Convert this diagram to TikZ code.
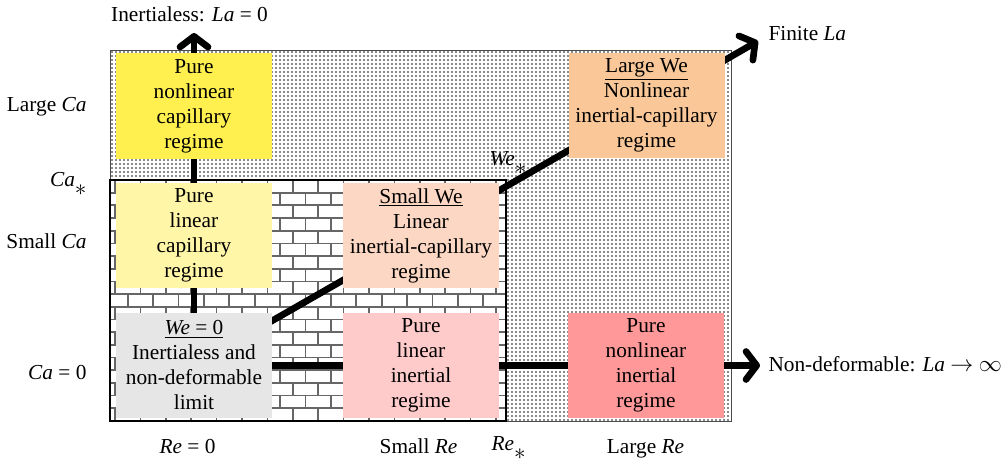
\documentclass[tikz,border=0pt]{standalone}
\usepackage{fontspec}
\setmainfont{Liberation Serif}
\usetikzlibrary{arrows.meta,patterns.meta}

\definecolor{nlcapcol}{RGB}{255,240,80}
\definecolor{lincapcol}{RGB}{255,246,168}
\definecolor{smallwecol}{RGB}{252,215,195}
\definecolor{largewecol}{RGB}{250,200,152}
\definecolor{zerocol}{RGB}{230,230,230}
\definecolor{lininertcol}{RGB}{255,202,202}
\definecolor{nlinertcol}{RGB}{255,152,152}

\pgfdeclarelayer{fillings}
\pgfdeclarelayer{links}
\pgfsetlayers{fillings,links,main}

\newcommand{\crit}{\raisebox{-7pt}{$\ast$}}

\tikzset{every picture/.style={line width=0.75pt}}
\tikzset{
  regime/.style={minimum width=117pt,minimum height=79pt,inner sep=0pt,align=center,font=\fontsize{16}{18.75}\selectfont},
  lbl/.style={inner sep=0.75pt,font=\fontsize{16}{19}\selectfont},
  link/.style={line width=5pt},
  flow/.style={link,-{Straight Barb[length=8pt,width=21pt,round]}},
  mortar/.style={color=gray!80!black,line width=1.3pt}
}

\begin{document}
\begin{tikzpicture}[x=0.75pt,y=0.75pt,yscale=-1,xscale=1]
\useasboundingbox (0,0) rectangle (1006,460);

% Regime boxes
\draw (194,106) node [regime,fill=nlcapcol] (nlcap) {Pure\\nonlinear\\capillary\\regime};
\draw (194,235.5) node [regime,fill=lincapcol] (lincap) {Pure\\linear\\capillary\\regime};
\draw (421,235.5) node [regime,fill=smallwecol] (smallwe) {\underline{Small We}\\Linear\\inertial-capillary\\regime};
\draw (646.5,105.5) node [regime,fill=largewecol] (largewe) {\underline{Large We}\\Nonlinear\\inertial-capillary\\regime};
\draw (194,365.5) node [regime,fill=zerocol] (zero) {\underline{\textit{We} = 0}\\Inertialess and\\non-deformable\\limit};
\draw (421,365.5) node [regime,fill=lininertcol] (lininert) {Pure\\linear\\inertial\\regime};
\draw (646,365.5) node [regime,fill=nlinertcol] (nlinert) {Pure\\nonlinear\\inertial\\regime};

% Text Node
\draw (189.5,22) node [lbl,anchor=base] (inert) {Inertialess: \textit{La} = 0};
% Text Node
\draw (767,41) node [lbl,anchor=base west] (finite) {Finite \textit{La}};
% Text Node
\draw (767,371) node [lbl,anchor=base west] (nondef) {Non-deformable: \textit{La} $\rightarrow$ $\infty$};
% Text Node
\draw (488,165) node [lbl,anchor=base west] (westar) {\textit{We}\crit};
% Text Node
\draw (88,186) node [lbl,anchor=base east] (castar) {\textit{Ca}\crit};
% Text Node
\draw (88,112) node [lbl,anchor=base east] (largeca) {Large \textit{Ca}};
% Text Node
\draw (88,248) node [lbl,anchor=base east] (smallca) {Small \textit{Ca}};
% Text Node
\draw (88,379) node [lbl,anchor=base east] (cazero) {\textit{Ca} = 0};
% Text Node
\draw (187.5,453) node [lbl,anchor=base] (rezero) {\textit{Re} = 0};
% Text Node
\draw (418.5,453) node [lbl,anchor=base] (smallre) {Small \textit{Re}};
% Text Node
\draw (490,450) node [lbl,anchor=base west] (restar) {\textit{Re}\crit};
% Text Node
\draw (645.5,453) node [lbl,anchor=base] (largere) {Large \textit{Re}};

% free ends of the arrows
\coordinate (upend) at (194,33);
\coordinate (diagend) at (758,41);
\coordinate (rightend) at (760,365.5);

% Backgrounds: dotted outer field, brick wall for small Re and Ca
\begin{pgfonlayer}{fillings}
\draw[draw=gray!60!black,pattern={Dots[distance=3pt,radius=0.8pt]},pattern color=gray!75!black] (110,50) rectangle (731,421);
\fill[white] (110,180) rectangle (506,421);
\begin{scope}
\clip (110,180) rectangle (506,421);
\foreach \r in {0,...,18} {
  \pgfmathsetmacro\yy{180+12.68*\r}
  \pgfmathsetmacro\off{mod(\r,2)*12.7}
  \draw[mortar] (110,\yy) -- (506,\yy);
  \foreach \c in {0,...,17} \draw[mortar] ({89.6+\off+25.4*\c},\yy) -- ++(0,12.68);
}
\end{scope}
\draw[line width=1.2pt] (110,180) rectangle (506,421);
\end{pgfonlayer}

% Connectors
\begin{pgfonlayer}{links}
\draw[flow] (zero.center) -- (lincap.center) -- (nlcap.center) -- (upend);
\draw[flow] (zero.center) -- (smallwe.center) -- (largewe.center) -- (diagend);
\draw[flow] (zero.center) -- (lininert.center) -- (nlinert.center) -- (rightend);
\end{pgfonlayer}

\end{tikzpicture}
\end{document}
